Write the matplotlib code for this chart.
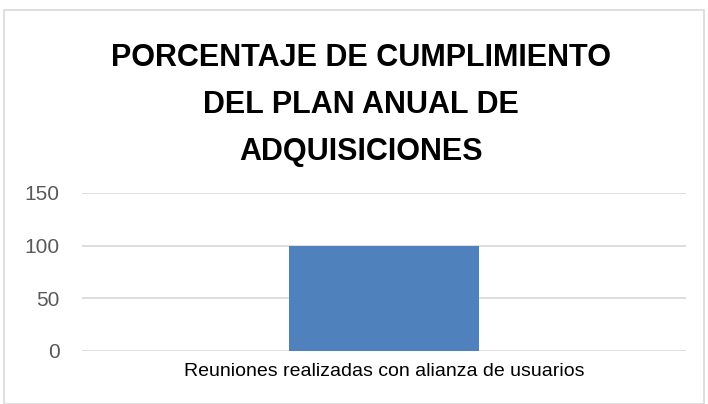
import matplotlib
matplotlib.use("Agg")
import matplotlib.pyplot as plt
from matplotlib.patches import Rectangle

plt.rcParams['font.family'] = ['Liberation Sans', 'DejaVu Sans']

categorias = ["Reuniones realizadas con alianza de usuarios"]
valores = [100]
ticks_y = [0, 50, 100, 150]
titulo = "PORCENTAJE DE CUMPLIMIENTO\nDEL PLAN ANUAL DE\nADQUISICIONES"

fig = plt.figure(figsize=(7.08, 4.04), dpi=100)
ax = fig.add_axes([82/708, 1 - 351/404, (686-82)/708, (351-193)/404])

# borde del grafico
fig.patches.append(Rectangle((4/708, 0), 1 - 8/708, 1 - 10/404, transform=fig.transFigure,
                             fill=False, edgecolor="#d9d9d9", linewidth=1.2))

ax.bar(range(len(categorias)), valores, width=0.315, color="#4f81bd", zorder=3)
ax.set_xlim(-0.5, len(categorias) - 0.5)
ax.set_ylim(0, 150)
ax.set_yticks(ticks_y)
ax.set_xticks(range(len(categorias)))
ax.set_xticklabels(categorias, fontsize=14, color="black")
ax.tick_params(axis="y", labelsize=15, labelcolor="#595959", length=0, pad=16)
ax.tick_params(axis="x", length=0, pad=9)
ax.yaxis.grid(True, color="#d9d9d9", linewidth=1.2, zorder=0)
for s in ax.spines.values():
    s.set_visible(False)

fig.text(361/708, 1 - 105/404, titulo, ha="center", va="center", fontsize=22,
         fontweight="bold", linespacing=1.72)

fig.savefig("out.png", dpi=100)
